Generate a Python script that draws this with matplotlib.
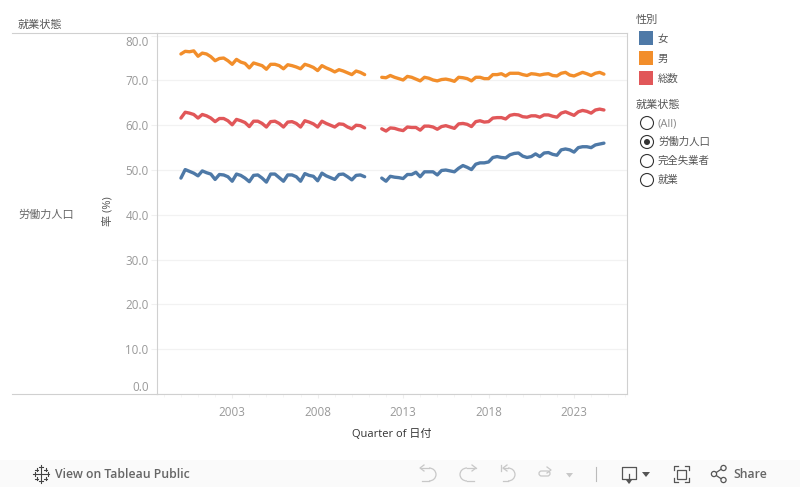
import matplotlib
matplotlib.use("Agg")
import matplotlib.pyplot as plt
from matplotlib.patches import Rectangle, Circle, Arc, Polygon, FancyBboxPatch
from matplotlib.transforms import ScaledTranslation
import numpy as np

plt.rcParams['font.family'] = ['Open Sans', 'Noto Sans CJK JP', 'DejaVu Sans']

# ---- data ----
start_a, end_a = 2000.0, 2010.75
start_b, end_b = 2011.75, 2024.75
quarters_a = np.arange(start_a, end_a + 0.01, 0.25)
quarters_b = np.arange(start_b, end_b + 0.01, 0.25)

female_a = [48.2,50.1,49.7,49.3,48.7,49.8,49.4,49.1,47.9,49.0,48.9,48.5,47.5,49.1,48.8,48.2,47.4,48.8,48.9,48.2,47.3,49.1,49.1,48.3,47.5,48.9,48.9,48.5,47.5,49.2,48.8,48.6,47.6,49.3,48.7,48.3,47.9,49.0,49.1,48.5,47.8,48.8,48.9,48.5]
male_a = [75.9,76.5,76.4,76.6,75.4,76.1,75.9,75.3,74.4,74.9,75.0,74.4,73.6,74.7,74.1,73.8,72.8,73.9,73.6,73.3,72.5,73.6,73.6,73.3,72.6,73.5,73.3,73.0,72.6,73.6,73.3,72.9,72.2,73.3,72.8,72.4,71.9,72.4,72.1,71.7,71.3,72.1,71.8,71.3]
total_a = [61.6,62.9,62.7,62.4,61.6,62.4,62.1,61.6,60.8,61.5,61.5,61.0,60.1,61.3,61.0,60.6,59.7,60.9,60.9,60.4,59.6,60.8,60.9,60.4,59.6,60.7,60.8,60.4,59.6,61.0,60.7,60.3,59.6,60.9,60.4,60.0,59.6,60.3,60.2,59.6,59.2,60.0,59.9,59.4]

female_b = [48.2,47.5,48.6,48.4,48.3,48.1,49.0,49.0,49.5,48.5,49.6,49.6,49.6,48.9,49.9,50.0,49.8,49.6,50.4,51.0,50.6,50.1,51.3,51.6,51.6,51.8,52.8,53.0,52.8,52.7,53.4,53.7,53.8,53.1,52.8,53.0,53.6,53.0,53.8,53.9,53.5,53.3,54.5,54.7,54.5,54.0,55.0,55.2,55.2,55.0,55.6,55.8,56.0]
male_b = [70.7,70.6,71.1,70.7,70.4,70.1,70.9,70.7,70.3,69.9,70.7,70.5,70.1,69.9,70.2,70.3,70.1,69.8,70.7,70.6,70.4,69.9,70.7,70.7,70.4,70.4,71.3,71.3,71.5,71.0,71.6,71.6,71.6,71.3,71.1,71.5,71.4,71.2,71.4,71.5,71.1,71.0,71.6,71.8,71.2,71.0,71.4,71.8,71.5,71.1,71.6,71.8,71.4]
total_b = [59.2,58.7,59.4,59.3,59.0,58.8,59.6,59.5,59.5,58.9,59.8,59.8,59.6,59.1,59.7,59.9,59.6,59.3,60.3,60.4,60.2,59.7,60.8,61.0,60.7,60.8,61.6,61.7,61.7,61.4,62.2,62.4,62.3,61.9,61.8,62.1,62.1,61.8,62.3,62.3,62.0,61.8,62.7,63.0,62.6,62.2,63.0,63.3,63.1,62.7,63.4,63.6,63.4]

series_names = ['女', '男', '総数']
series_colors = ['#4e79a7', '#f28e2b', '#e15759']
y_ticks = [0, 10, 20, 30, 40, 50, 60, 70, 80]
x_ticks = [2003, 2008, 2013, 2018, 2023]
radio_labels = ['(All)', '労働力人口', '完全失業者', '就業']
radio_selected = 1

# ---- figure ----
W, H = 800, 487
fig = plt.figure(figsize=(W / 100, H / 100), dpi=100, facecolor='white')

L, R, T, B = 157, 627, 32.5, 394
ax = fig.add_axes([L / W, 1 - B / H, (R - L) / W, (B - T) / H])
ax.set_ylim(0.2, 80.7)
ax.set_xlim(1998.60, 2026.10)

for s in ('left', 'right', 'top', 'bottom'):
    ax.spines[s].set_color('#d0d0d0')
    ax.spines[s].set_linewidth(0.8)

ax.set_yticks(y_ticks)
ax.set_yticklabels([f'{v:.1f}' for v in y_ticks], fontsize=8.4, color='#999999')
shift = ScaledTranslation(0, -1.2 / 100, fig.dpi_scale_trans)
for lab in ax.yaxis.get_majorticklabels():
    lab.set_transform(lab.get_transform() + shift)
ax.yaxis.get_majorticklabels()[0].set_va('bottom')
ax.yaxis.get_majorticklabels()[-1].set_va('top')
ax.grid(axis='y', color='#f2f2f2', linewidth=0.9)
ax.set_axisbelow(True)
ax.tick_params(axis='y', length=4, color='#f0f0f0', pad=2)

ax.set_xticks(x_ticks)
ax.set_xticklabels([str(v) for v in x_ticks], fontsize=8.4, color='#999999')
ax.set_xticks(np.arange(1999, 2027), minor=True)
ax.tick_params(axis='x', which='major', length=3, color='#eeeeee', pad=6)
ax.tick_params(axis='x', which='minor', length=2, color='#f4f4f4')

for seg_x, seg_f, seg_m, seg_t in ((quarters_a, female_a, male_a, total_a),
                                   (quarters_b, female_b, male_b, total_b)):
    for vals, col in zip((seg_f, seg_m, seg_t), series_colors):
        ax.plot(seg_x, vals, color=col, lw=2.4, solid_joinstyle='round',
                solid_capstyle='round')

# ---- overlay in pixel coordinates: headers, legend, toolbar ----
ov = fig.add_axes([0, 0, 1, 1], zorder=5)
ov.set_xlim(0, W)
ov.set_ylim(H, 0)
ov.axis('off')
ov.patch.set_alpha(0)

ov.plot([12, L], [32.5, 32.5], color='#d0d0d0', lw=0.8)
ov.plot([12, L], [394, 394], color='#d0d0d0', lw=0.8)

TXT = '#555555'
ov.text(18, 25, '就業状態', fontsize=8, color=TXT, va='center')
ov.text(18, 215, '労働力人口', fontsize=8, color='#666666', va='center')
ov.text(108, 211, '率 (%)', fontsize=8, color=TXT, rotation=90, va='center', ha='center')
ov.text(392, 434.5, 'Quarter of 日付', fontsize=8, color='#333333', va='center', ha='center')

ov.text(636, 20.5, '性別', fontsize=8, color=TXT, va='center')
for yy, name, col in zip((31, 51, 71), series_names, series_colors):
    ov.add_patch(Rectangle((639, yy), 14, 14, facecolor=col, edgecolor='none'))
    ov.text(658, yy + 8, name, fontsize=7.5, color=TXT, va='center')

ov.text(636, 105, '就業状態', fontsize=8, color=TXT, va='center')
for i, (yy, name) in enumerate(zip((123, 142, 161, 180), radio_labels)):
    ov.add_patch(Circle((647, yy), 6.5, facecolor='white', edgecolor='#333333', lw=0.8))
    if i == radio_selected:
        ov.add_patch(Circle((647, yy), 3, facecolor='#333333', edgecolor='none'))
    ov.text(658, yy + 0.5, name, fontsize=8 if i == 0 else 7.5,
            color='#888888' if i == 0 else TXT, va='center')

# toolbar
ov.add_patch(Rectangle((0, 460), W, 27, facecolor='#fafafa', edgecolor='none'))
ov.text(55, 474, 'View on Tableau Public', fontsize=8.8, color='#666666', va='center',
        fontweight='semibold')
ov.text(733, 474, 'Share', fontsize=8.8, color='#666666', va='center', fontweight='semibold')

# Tableau logo made of small crosses
logo = [(41, 474, 4), (41, 467, 1.8), (41, 481, 1.8), (34.5, 474, 1.8), (47.5, 474, 1.8),
        (36.5, 469.5, 1.5), (45.5, 469.5, 1.5), (36.5, 478.5, 1.5), (45.5, 478.5, 1.5)]
for cx, cy, s in logo:
    ov.plot([cx - s, cx + s], [cy, cy], color='#444444', lw=0.8)
    ov.plot([cx, cx], [cy - s, cy + s], color='#444444', lw=0.8)

FAINT = '#c8c8c8'
DARK = '#555555'
# undo / redo / revert / refresh
ov.add_patch(Arc((429, 474.5), 14, 13, theta1=-90, theta2=90, color=FAINT, lw=0.9))
ov.plot([422, 429], [481, 481], color=FAINT, lw=0.9)
ov.plot([421, 429], [468, 468], color=FAINT, lw=0.9)
ov.plot([424, 420, 424], [465, 468, 471], color=FAINT, lw=0.9)
ov.add_patch(Arc((467, 474.5), 14, 13, theta1=90, theta2=270, color=FAINT, lw=0.9))
ov.plot([467, 476], [468, 468], color=FAINT, lw=0.9)
ov.plot([467, 474], [481, 481], color=FAINT, lw=0.9)
ov.plot([472, 476, 472], [465, 468, 471], color=FAINT, lw=0.9)
ov.add_patch(Arc((508, 474.5), 14, 13, theta1=-90, theta2=90, color=FAINT, lw=0.9))
ov.plot([503, 508], [468, 468], color=FAINT, lw=0.9)
ov.plot([503, 508], [481, 481], color=FAINT, lw=0.9)
ov.plot([501, 501], [465, 471], color=FAINT, lw=0.9)
ov.plot([507, 503, 507], [465, 468, 471], color=FAINT, lw=0.9)
ov.add_patch(FancyBboxPatch((539, 471), 11, 5, boxstyle='round,pad=0,rounding_size=2.5',
                            facecolor='none', edgecolor=FAINT, lw=0.9))
ov.plot([547, 551, 547], [467, 470, 473], color=FAINT, lw=0.9)
ov.add_patch(Polygon([(566, 473), (573, 473), (569.5, 477.5)], facecolor=FAINT, edgecolor='none'))
ov.plot([595.5, 595.5], [467, 481], color='#bbbbbb', lw=0.8)
# download
ov.plot([629, 622, 622, 636, 636, 629], [479, 479, 467, 467, 479, 479], color=DARK, lw=0.9)
ov.plot([629, 629], [474, 482], color=DARK, lw=0.9)
ov.add_patch(Polygon([(626, 480), (632, 480), (629, 484)], facecolor=DARK, edgecolor='none'))
ov.add_patch(Polygon([(642, 472), (650, 472), (646, 477)], facecolor=DARK, edgecolor='none'))
# fit
ov.add_patch(Rectangle((677, 469.5), 9, 9, facecolor='none', edgecolor=DARK, lw=0.9))
for xs, ys in (([674, 674, 678], [470, 466, 466]), ([685, 689, 689], [466, 466, 470]),
               ([674, 674, 678], [478, 482, 482]), ([685, 689, 689], [482, 482, 478])):
    ov.plot(xs, ys, color=DARK, lw=0.9)
# share
ov.plot([723, 714, 723], [468, 474, 480], color=DARK, lw=0.9)
for cx, cy in ((723.5, 468), (714, 474), (723.5, 480)):
    ov.add_patch(Circle((cx, cy), 2.6, facecolor='#fafafa', edgecolor=DARK, lw=0.9, zorder=6))

fig.savefig('out.png', dpi=100, facecolor='white')
